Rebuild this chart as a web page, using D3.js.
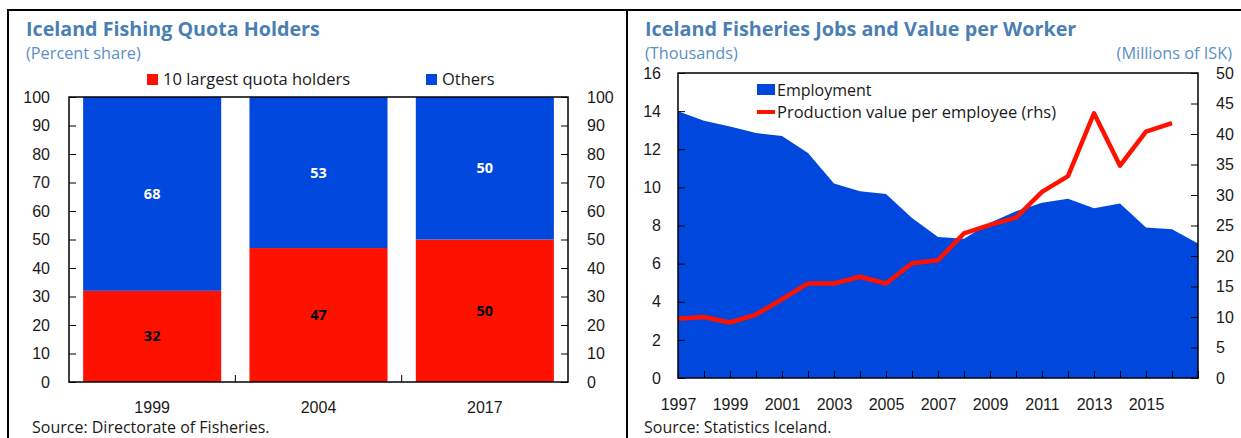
<!DOCTYPE html>
<html>
<head>
<meta charset="utf-8">
<script src="https://cdn.jsdelivr.net/npm/d3@7"></script>
<style>
  body { margin: 0; background: #fff; }
  svg { display: block; font-family: "Open Sans", "Noto Sans", sans-serif; }
  .tick text { fill: #1a1a1a; }
</style>
</head>
<body>
<div id="chart"></div>
<script>
// left panel data
const quotaYears = ["1999", "2004", "2017"];
const largestHolders = [32, 47, 50];
const otherHolders = [68, 53, 50];
const shareTicks = [0, 10, 20, 30, 40, 50, 60, 70, 80, 90, 100];

// right panel data
const jobYears = [1997, 1998, 1999, 2000, 2001, 2002, 2003, 2004, 2005, 2006, 2007,
    2008, 2009, 2010, 2011, 2012, 2013, 2014, 2015, 2016, 2017];
const employment = [14.0, 13.5, 13.2, 12.85, 12.7, 11.8, 10.2, 9.8, 9.65, 8.4, 7.4,
    7.3, 8.15, 8.75, 9.2, 9.4, 8.9, 9.15, 7.9, 7.8, 7.05];
const valueYears = jobYears.slice(0, 20);
const valuePerEmployee = [9.7, 10.0, 9.1, 10.4, 12.9, 15.5, 15.5, 16.6, 15.5, 18.8,
    19.3, 23.7, 25.1, 26.3, 30.5, 33.1, 43.4, 34.8, 40.4, 41.8];
const jobTicks = [0, 2, 4, 6, 8, 10, 12, 14, 16];
const valueTicks = [0, 5, 10, 15, 20, 25, 30, 35, 40, 45, 50];

const BLUE = "#0048dd", RED = "#ff1100";
const TITLE = "#4a7fb3", SUB = "#5b8fc6";

document.addEventListener("DOMContentLoaded", function () {
    const W = 1241, H = 438;
    const svg = d3.select("#chart").append("svg")
        .attr("width", W).attr("height", H);

    // panel borders
    svg.append("path")
        .attr("d", "M8,438V10H1241M627,10V438")
        .attr("fill", "none").attr("stroke", "#000").attr("stroke-width", 2);

    function titles(x, size, title, sub) {
        svg.append("text").attr("x", x).attr("y", 36)
            .attr("font-size", size + "px").attr("font-weight", "bold")
            .attr("fill", TITLE).text(title);
        svg.append("text").attr("x", x).attr("y", 59)
            .attr("font-size", "16.3px").attr("fill", SUB).text(sub);
    }

    // ---------- left: quota holders ----------
    titles(26, 19.7, "Iceland Fishing Quota Holders", "(Percent share)");

    const L = { left: 69, right: 568, top: 97, bottom: 382 };
    const x1 = d3.scaleBand().domain(quotaYears)
        .range([L.left, L.right]).paddingInner(0.17).paddingOuter(0.085);
    const y1 = d3.scaleLinear().domain([0, 100]).range([L.bottom, L.top]);

    const left = svg.append("g");
    const stacks = quotaYears.map((yr, i) => ({ yr, a: largestHolders[i], b: otherHolders[i] }));

    left.selectAll(".bar-red").data(stacks).enter().append("rect")
        .attr("x", d => x1(d.yr)).attr("width", x1.bandwidth())
        .attr("y", d => y1(d.a)).attr("height", d => y1(0) - y1(d.a))
        .attr("fill", RED);
    left.selectAll(".bar-blue").data(stacks).enter().append("rect")
        .attr("x", d => x1(d.yr)).attr("width", x1.bandwidth())
        .attr("y", d => y1(d.a + d.b)).attr("height", d => y1(d.a) - y1(d.a + d.b))
        .attr("fill", BLUE);

    left.selectAll(".lab-red").data(stacks).enter().append("text")
        .attr("x", d => x1(d.yr) + x1.bandwidth() / 2)
        .attr("y", d => y1(d.a / 2)).attr("dy", "0.35em")
        .attr("text-anchor", "middle").attr("font-size", "14.5px").attr("font-weight", "bold")
        .attr("fill", "#000").text(d => d.a);
    left.selectAll(".lab-blue").data(stacks).enter().append("text")
        .attr("x", d => x1(d.yr) + x1.bandwidth() / 2)
        .attr("y", d => y1(d.a + d.b / 2)).attr("dy", "0.35em")
        .attr("text-anchor", "middle").attr("font-size", "14.5px").attr("font-weight", "bold")
        .attr("fill", "#fff").text(d => d.b);

    left.append("g").attr("transform", `translate(${L.left},0)`)
        .call(d3.axisLeft(y1).tickValues(shareTicks).tickSize(-7).tickPadding(19))
        .call(g => g.select(".domain").remove())
        .style("font-size", "16px").style("font-family", null);
    left.append("g").attr("transform", `translate(${L.right},0)`)
        .call(d3.axisRight(y1).tickValues(shareTicks).tickSize(-7).tickPadding(19))
        .call(g => g.select(".domain").remove())
        .style("font-size", "16px").style("font-family", null);
    left.append("g").attr("transform", `translate(0,${L.bottom})`)
        .call(d3.axisBottom(x1).tickSize(0).tickPadding(20))
        .call(g => g.select(".domain").remove())
        .style("font-size", "16px").style("font-family", null);
    // category separators
    left.selectAll(".sep").data(quotaYears.slice(1)).enter().append("line")
        .attr("x1", d => x1(d) - x1.step() * x1.paddingInner() / 2)
        .attr("x2", d => x1(d) - x1.step() * x1.paddingInner() / 2)
        .attr("y1", L.bottom).attr("y2", L.bottom - 7)
        .attr("stroke", "#000");
    left.append("rect").attr("x", L.left).attr("y", L.top)
        .attr("width", L.right - L.left).attr("height", L.bottom - L.top)
        .attr("fill", "none").attr("stroke", "#000").attr("stroke-width", 1.5);

    // legend
    const leg1 = [{ name: "10 largest quota holders", c: RED, x: 147 }, { name: "Others", c: BLUE, x: 426 }];
    leg1.forEach(d => {
        svg.append("rect").attr("x", d.x).attr("y", 74).attr("width", 11).attr("height", 11).attr("fill", d.c);
        svg.append("text").attr("x", d.x + 16).attr("y", 85).attr("font-size", "16.5px")
            .attr("fill", "#1a1a1a").text(d.name);
    });

    svg.append("text").attr("x", 32).attr("y", 433).attr("font-size", "16px")
        .attr("fill", "#1a1a1a").text("Source: Directorate of Fisheries.");

    // ---------- right: jobs and value ----------
    titles(645, 19.8, "Iceland Fisheries Jobs and Value per Worker", "(Thousands)");
    svg.append("text").attr("x", 1232).attr("y", 59).attr("text-anchor", "end")
        .attr("font-size", "16.3px").attr("fill", SUB).text("(Millions of ISK)");

    const R = { left: 678, right: 1198, top: 73, bottom: 378 };
    const x2 = d3.scaleLinear().domain([1997, 2017]).range([R.left, R.right]);
    const y2 = d3.scaleLinear().domain([0, 16]).range([R.bottom, R.top]);
    const y3 = d3.scaleLinear().domain([0, 50]).range([R.bottom, R.top]);

    const right = svg.append("g");
    const empData = jobYears.map((yr, i) => ({ yr, v: employment[i] }));
    const valData = valueYears.map((yr, i) => ({ yr, v: valuePerEmployee[i] }));

    right.append("path").datum(empData)
        .attr("d", d3.area().x(d => x2(d.yr)).y0(y2(0)).y1(d => y2(d.v)))
        .attr("fill", BLUE);
    right.append("path").datum(valData)
        .attr("d", d3.line().x(d => x2(d.yr)).y(d => y3(d.v)))
        .attr("fill", "none").attr("stroke", RED).attr("stroke-width", 4.5)
        .attr("stroke-linejoin", "round");

    right.append("g").attr("transform", `translate(${R.left},0)`)
        .call(d3.axisLeft(y2).tickValues(jobTicks).tickSize(-7).tickPadding(17))
        .call(g => g.select(".domain").remove())
        .style("font-size", "16px").style("font-family", null);
    right.append("g").attr("transform", `translate(${R.right},0)`)
        .call(d3.axisRight(y3).tickValues(valueTicks).tickSize(-7).tickPadding(18))
        .call(g => g.select(".domain").remove())
        .style("font-size", "16px").style("font-family", null);
    right.append("g").attr("transform", `translate(0,${R.bottom})`)
        .call(d3.axisBottom(x2).tickValues(jobYears).tickSize(-7).tickFormat(""))
        .call(g => g.select(".domain").remove());
    right.append("g").attr("transform", `translate(0,${R.bottom})`)
        .call(d3.axisBottom(x2).tickValues(jobYears.filter((d, i) => i % 2 === 0 && i < jobYears.length - 1))
            .tickSize(0).tickPadding(21).tickFormat(d3.format("d")))
        .call(g => g.select(".domain").remove())
        .style("font-size", "16px").style("font-family", null);
    right.append("rect").attr("x", R.left).attr("y", R.top)
        .attr("width", R.right - R.left).attr("height", R.bottom - R.top)
        .attr("fill", "none").attr("stroke", "#000").attr("stroke-width", 1.5);

    // legend
    svg.append("rect").attr("x", 757).attr("y", 84).attr("width", 18).attr("height", 11).attr("fill", BLUE);
    svg.append("text").attr("x", 777).attr("y", 96).attr("font-size", "16px")
        .attr("fill", "#1a1a1a").text("Employment");
    svg.append("line").attr("x1", 757).attr("x2", 775).attr("y1", 112).attr("y2", 112)
        .attr("stroke", RED).attr("stroke-width", 4);
    svg.append("text").attr("x", 777).attr("y", 118).attr("font-size", "16.5px")
        .attr("fill", "#1a1a1a").text("Production value per employee (rhs)");

    svg.append("text").attr("x", 644).attr("y", 433).attr("font-size", "16px")
        .attr("fill", "#1a1a1a").text("Source: Statistics Iceland.");
});
</script>
</body>
</html>
